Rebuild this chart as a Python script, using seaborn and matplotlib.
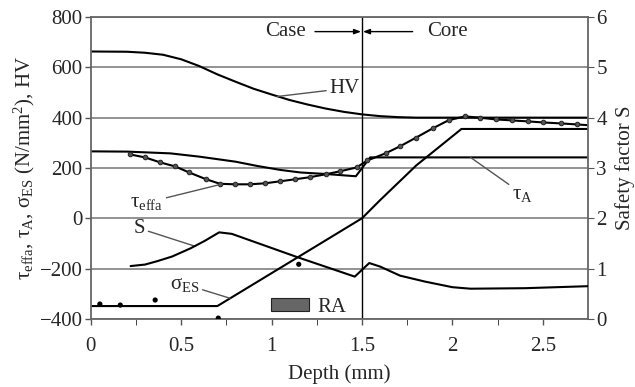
import matplotlib
matplotlib.use("Agg")
import matplotlib.pyplot as plt
from matplotlib.patches import Patch
import seaborn as sns

# depth (mm) vs hardness HV
hv_depth = [0.0, 0.2, 0.3, 0.4, 0.5, 0.6, 0.7, 0.8, 0.9, 1.0, 1.1, 1.2, 1.3, 1.4, 1.5, 1.6, 1.7, 1.8, 2.75]
hv_value = [663, 662, 658, 650, 632, 605, 572, 543, 515, 492, 470, 452, 436, 423, 413, 406, 402, 400, 400]

# tau_A (N/mm2)
ta_depth = [0.0, 0.2, 0.44, 0.6, 0.8, 0.92, 1.05, 1.16, 1.3, 1.466, 1.545, 2.75]
ta_value = [266, 265, 258, 245, 225, 208, 192, 182, 176, 167, 242, 242]

# tau_effa (N/mm2), with markers
te_depth = [0.215, 0.30, 0.384, 0.467, 0.544, 0.638, 0.715, 0.798, 0.88, 0.964, 1.047, 1.13, 1.21, 1.30,
            1.38, 1.47, 1.53, 1.63, 1.71, 1.80, 1.89, 1.98, 2.07, 2.15, 2.24, 2.33, 2.42, 2.50, 2.60, 2.69]
te_value = [254, 242, 222, 206, 182, 155, 137, 135, 135, 139, 147, 155, 163, 175,
            187, 202, 230, 258, 286, 321, 357, 390, 405, 400, 393, 389, 385, 381, 377, 373]
te_end = [2.75, 370]

# sigma_ES (N/mm2)
se_depth = [0.0, 0.7, 1.31, 1.5, 1.6, 1.8, 2.05, 2.75]
se_value = [-349, -349, -83, 0, 72, 210, 355, 355]

# measured points
pt_depth = [0.05, 0.163, 0.356, 0.705, 1.15]
pt_value = [-341, -345, -325, -397, -183]

# safety factor S (right axis)
s_depth = [0.22, 0.30, 0.37, 0.45, 0.55, 0.63, 0.71, 0.78, 1.14, 1.46, 1.54, 1.60, 1.71, 1.85, 2.0, 2.1, 2.4, 2.75]
s_value = [1.05, 1.08, 1.15, 1.24, 1.40, 1.55, 1.72, 1.69, 1.23, 0.84, 1.11, 1.04, 0.86, 0.74, 0.63, 0.60, 0.61, 0.65]

x_ticks = [0, 0.5, 1, 1.5, 2, 2.5]
x_labels = ["0", "0.5", "1", "1.5", "2", "2.5"]
y_ticks = [-400, -200, 0, 200, 400, 600, 800]
s_ticks = [0, 1, 2, 3, 4, 5, 6]

sns.set_style("white")
plt.rcParams["font.family"] = ["Liberation Serif", "DejaVu Serif"]
plt.rcParams["mathtext.fontset"] = "custom"
plt.rcParams["mathtext.rm"] = "Liberation Serif"
plt.rcParams["mathtext.it"] = "Liberation Serif:italic"

fig, ax = plt.subplots(figsize=(6.35, 3.87), dpi=100)
fig.subplots_adjust(left=0.143, right=0.926, top=0.956, bottom=0.176)

grid_c = "#8a8a8a"
for v in y_ticks:
    ax.axhline(v, color=grid_c, lw=1.3, zorder=0)
ax.axvline(1.5, color="black", lw=1.0, zorder=1)

kw = dict(ax=ax, color="black", lw=1.5, estimator=None, sort=False, legend=False)
sns.lineplot(x=hv_depth, y=hv_value, **kw)
sns.lineplot(x=ta_depth, y=ta_value, **kw)
sns.lineplot(x=se_depth, y=se_value, **kw)
sns.lineplot(x=te_depth + [te_end[0]], y=te_value + [te_end[1]], **kw)
ax.plot(te_depth, te_value, linestyle="none", marker="o", ms=3.3,
        mfc="#555555", mec="#222222", mew=0.7, zorder=3)
sns.scatterplot(x=pt_depth, y=pt_value, ax=ax, color="black", s=14, edgecolor="none", zorder=3)

ax.set_xlim(0, 2.75)
ax.set_ylim(-400, 800)
ax.set_xticks(x_ticks)
ax.set_xticklabels(x_labels)
ax.set_xticks([0.25, 0.75, 1.25, 1.75, 2.25], minor=True)
ax.set_yticks(y_ticks)
ax.tick_params(axis="both", labelsize=15, direction="out", length=4, color="#555555", width=1)
ax.tick_params(axis="x", which="both", bottom=True, length=4, pad=9)
ax.tick_params(axis="y", left=True, pad=2)
for side in ["left", "right", "bottom", "top"]:
    ax.spines[side].set_color("#666666")
    ax.spines[side].set_linewidth(1.3)

ax.set_xlabel("Depth (mm)", fontsize=15, labelpad=6)
ax.set_ylabel(r"τ$_\mathrm{effa}$, τ$_\mathrm{A}$, σ$_\mathrm{ES}$ (N/mm$^2$), HV", fontsize=15, labelpad=2)

ax2 = ax.twinx()
sns.lineplot(x=s_depth, y=s_value, ax=ax2, color="black", lw=1.5, estimator=None, sort=False, legend=False)
ax2.set_ylim(0, 6)
ax2.set_yticks(s_ticks)
ax2.tick_params(axis="y", labelsize=15, direction="out", length=4, color="#555555", right=True, pad=2)
ax2.set_ylabel("Safety factor S", fontsize=15, labelpad=6)
for side in ["left", "right", "bottom", "top"]:
    ax2.spines[side].set_visible(False)

# labels with leader lines
lead = dict(arrowstyle="-", color="#555555", lw=1.0, shrinkA=0, shrinkB=0)
ax.annotate("HV", xy=(1.03, 484), xytext=(1.32, 516), fontsize=15, ha="left", va="center",
            arrowprops=lead)
ax.annotate(r"τ$_\mathrm{effa}$", xy=(0.725, 136), xytext=(0.40, 62), fontsize=15, ha="right", va="center",
            arrowprops=lead)
ax.annotate("S", xy=(0.58, -112), xytext=(0.30, -40), fontsize=15, ha="right", va="center",
            arrowprops=lead)
ax.annotate(r"σ$_\mathrm{ES}$", xy=(0.77, -318), xytext=(0.60, -262), fontsize=15, ha="right", va="center",
            arrowprops=lead)
ax.annotate(r"τ$_\mathrm{A}$", xy=(2.10, 242), xytext=(2.33, 96), fontsize=15, ha="left", va="center",
            arrowprops=lead)

# case / core
ax.text(1.075, 742, "Case", fontsize=15, ha="center", va="center")
ax.text(1.975, 742, "Core", fontsize=15, ha="center", va="center")
arr = dict(arrowstyle="-|>,head_length=0.4,head_width=0.15", color="black", lw=1.0, shrinkA=0, shrinkB=0)
ax.annotate("", xy=(1.495, 742), xytext=(1.24, 742), arrowprops=arr)
ax.annotate("", xy=(1.505, 742), xytext=(1.78, 742), arrowprops=arr)

handle = Patch(facecolor="#666666", edgecolor="#222222", lw=0.8)
ax.legend([handle], ["RA"], loc="center left", bbox_to_anchor=(0.362, 0.038), frameon=False,
          fontsize=15, handlelength=1.85, handleheight=0.55, handletextpad=0.4,
          borderpad=0, borderaxespad=0)

fig.savefig("out.png", dpi=100)
